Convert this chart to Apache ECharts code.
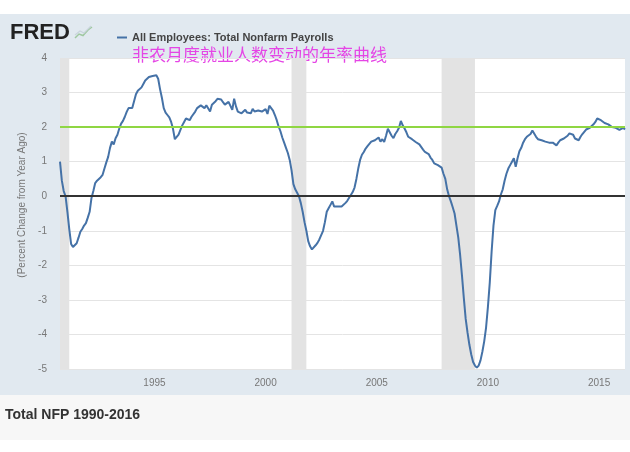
<!DOCTYPE html>
<html><head><meta charset="utf-8">
<script src="https://cdn.jsdelivr.net/npm/echarts@6/dist/echarts.min.js"></script>
<style>
html,body{margin:0;padding:0;background:#fff;}
#wrap{position:relative;width:630px;height:452px;overflow:hidden;}
#frame{position:absolute;left:0;top:14px;width:630px;height:381px;background:#e1e9f0;}
#foot{position:absolute;left:0;top:395px;width:630px;height:45px;background:#f7f7f7;}
#chart{position:absolute;left:0;top:0;width:630px;height:452px;}
</style></head><body>
<div id="wrap"><div id="frame"></div><div id="foot"></div><div id="chart"></div></div>
<script>
// Monthly series starts Oct 1990
const startYear = 1990, startMonth = 10;
const seriesName = 'All Employees: Total Nonfarm Payrolls';
// Percent change from year ago, Oct 1990 - Dec 1999
const yoy1990s = [
  1.0, 0.45, 0.15,
  0.0, -0.45, -0.95, -1.38, -1.47, -1.42, -1.36, -1.2, -1.03, -0.95, -0.85, -0.78,
  -0.62, -0.45, -0.05, 0.15, 0.38, 0.45, 0.5, 0.55, 0.62, 0.8, 0.98, 1.14,
  1.4, 1.58, 1.5, 1.68, 1.78, 1.96, 2.1, 2.18, 2.3, 2.44, 2.55, 2.6,
  2.55, 2.58, 2.95, 3.05, 3.1, 3.15, 3.25, 3.35, 3.38, 3.45, 3.43, 3.48,
  3.5, 3.5, 3.4, 3.1, 2.85, 2.55, 2.42, 2.35, 2.28, 2.15, 1.95, 1.65,
  1.7, 1.78, 1.92, 2.05, 2.15, 2.25, 2.28, 2.2, 2.3, 2.35, 2.45, 2.55,
  2.6, 2.63, 2.58, 2.55, 2.63, 2.6, 2.45, 2.65, 2.7, 2.75, 2.82, 2.85,
  2.8, 2.72, 2.65, 2.62, 2.73, 2.68, 2.5, 2.82, 2.6, 2.45, 2.42, 2.4,
  2.45, 2.5, 2.42, 2.45, 2.4, 2.53, 2.45, 2.4, 2.48, 2.53, 2.45, 2.5
];
// Jan 2000 - Dec 2009
const yoy2000s = [
  2.52, 2.38, 2.62, 2.58, 2.48, 2.35, 2.2, 2.02, 1.88, 1.7, 1.55, 1.4,
  1.25, 1.05, 0.75, 0.35, 0.2, 0.1, 0.0, -0.2, -0.45, -0.75, -1.0, -1.3,
  -1.45, -1.54, -1.5, -1.42, -1.35, -1.25, -1.2, -1.0, -0.75, -0.45, -0.35, -0.25,
  -0.15, -0.3, -0.32, -0.3, -0.33, -0.3, -0.26, -0.2, -0.14, -0.05, 0.0, 0.12,
  0.25, 0.5, 0.8, 1.05, 1.2, 1.28, 1.38, 1.45, 1.5, 1.58, 1.6, 1.62,
  1.62, 1.7, 1.58, 1.65, 1.57, 1.75, 1.95, 1.96, 1.75, 1.68, 1.8, 1.88,
  1.98, 2.18, 2.05, 1.96, 1.85, 1.72, 1.72, 1.65, 1.6, 1.57, 1.55, 1.5,
  1.45, 1.35, 1.28, 1.3, 1.22, 1.12, 1.05, 0.95, 0.92, 0.9, 0.86, 0.83,
  0.65, 0.5, 0.2, 0.0, -0.15, -0.32, -0.5, -0.85, -1.2, -1.7, -2.3, -2.95,
  -3.55, -3.95, -4.3, -4.58, -4.8, -4.9, -4.96, -4.9, -4.75, -4.5, -4.2, -3.8
];
// Jan 2010 - Mar 2016
const yoy2010s = [
  -3.2, -2.5, -1.6, -0.85, -0.4, -0.28, -0.15, 0.05, 0.2, 0.45, 0.65, 0.8,
  0.9, 1.0, 1.1, 0.85, 1.1, 1.3, 1.4, 1.55, 1.65, 1.72, 1.75, 1.8,
  1.9, 1.88, 1.72, 1.65, 1.68, 1.62, 1.65, 1.58, 1.6, 1.55, 1.52, 1.55,
  1.5, 1.47, 1.55, 1.62, 1.63, 1.67, 1.7, 1.75, 1.82, 1.86, 1.78, 1.67,
  1.65, 1.62, 1.72, 1.8, 1.85, 1.93, 1.96, 1.98, 2.02, 2.08, 2.15, 2.25,
  2.3, 2.2, 2.15, 2.12, 2.1, 2.08, 2.06, 2.0, 1.98, 1.98, 1.95, 1.92,
  1.95, 1.98, 1.93
];
const xTickYears = [1995, 2000, 2005, 2010, 2015];
const yMin = -5, yMax = 4, yStep = 1;
const recessions = [['1990-10', '1991-03'], ['2001-03', '2001-11'], ['2007-12', '2009-06']];
const targetLevel = 2;
const zeroLevel = 0;

const values = yoy1990s.concat(yoy2000s, yoy2010s);
const months = values.map((_, i) => {
  const m = startMonth - 1 + i;
  const y = startYear + Math.floor(m / 12);
  const mm = (m % 12) + 1;
  return y + '-' + String(mm).padStart(2, '0');
});

const narrow = '"Liberation Sans Narrow", "Liberation Sans", Arial, sans-serif';
const chart = echarts.init(document.getElementById('chart'), null, {renderer: 'canvas'});
chart.setOption({
  animation: false,
  backgroundColor: 'transparent',
  grid: {left: 60, right: 5, top: 58, bottom: 83, show: true, backgroundColor: '#ffffff', borderWidth: 0},
  legend: {
    data: [seriesName], left: 112, top: 27, icon: 'rect', itemWidth: 10, itemHeight: 2,
    textStyle: {fontWeight: 'bold', fontSize: 11, color: '#444', fontFamily: '"Liberation Sans", Arial, sans-serif'}
  },
  xAxis: {
    type: 'category', data: months, boundaryGap: false,
    axisLine: {show: false}, axisTick: {show: false}, splitLine: {show: false},
    axisLabel: {
      interval: (i, v) => v.endsWith('-01') && xTickYears.includes(+v.slice(0, 4)),
      formatter: v => v.slice(0, 4),
      color: '#777', fontSize: 10, margin: 9, fontFamily: narrow
    }
  },
  yAxis: {
    type: 'value', min: yMin, max: yMax, interval: yStep,
    axisLine: {show: false}, axisTick: {show: false},
    splitLine: {lineStyle: {color: '#e4e4e4', width: 1}},
    axisLabel: {color: '#777', fontSize: 10, margin: 13, fontFamily: narrow}
  },
  graphic: [
    {type: 'text', x: 10, y: 33, style: {text: 'FRED', font: '900 22px "Liberation Sans", Arial, sans-serif', fill: '#222', textVerticalAlign: 'middle', verticalAlign: 'middle'}},
    {type: 'polyline', shape: {points: [[75, 38], [79, 34], [83, 35.5], [88, 30], [92, 27]]}, style: {stroke: '#9fc8a0', lineWidth: 1.5, fill: null}},
    {type: 'polyline', shape: {points: [[75, 35], [80, 31], [84, 33], [91, 26]]}, style: {stroke: '#c8d4dc', lineWidth: 1.2, fill: null}},
    {type: 'text', x: 132, y: 55, style: {text: '非农月度就业人数变动的年率曲线', font: '17px "Noto Sans CJK SC", sans-serif', fill: '#e545e5', textVerticalAlign: 'middle', verticalAlign: 'middle'}},
    {type: 'text', x: 22, y: 205, rotation: Math.PI / 2, style: {text: '(Percent Change from Year Ago)', font: '10px ' + narrow, fill: '#777', textAlign: 'center', align: 'center', textVerticalAlign: 'middle', verticalAlign: 'middle'}},
    {type: 'text', x: 5, y: 415, style: {text: 'Total NFP 1990-2016', font: 'bold 14px "Liberation Sans", Arial, sans-serif', fill: '#333', textVerticalAlign: 'middle', verticalAlign: 'middle'}}
  ],
  series: [{
    type: 'line', name: seriesName, data: values, symbol: 'none', showSymbol: false,
    lineStyle: {color: '#4572a7', width: 2}, itemStyle: {color: '#4572a7'},
    z: 3,
    markArea: {
      silent: true, itemStyle: {color: '#e3e3e3'},
      data: recessions.map(r => [{xAxis: r[0]}, {xAxis: r[1]}])
    },
    markLine: {
      silent: true, symbol: 'none', label: {show: false},
      data: [
        {yAxis: targetLevel, lineStyle: {color: '#8fd643', width: 2, type: 'solid'}},
        {yAxis: zeroLevel, lineStyle: {color: '#333', width: 2, type: 'solid'}}
      ]
    }
  }]
});
</script>
</body></html>
